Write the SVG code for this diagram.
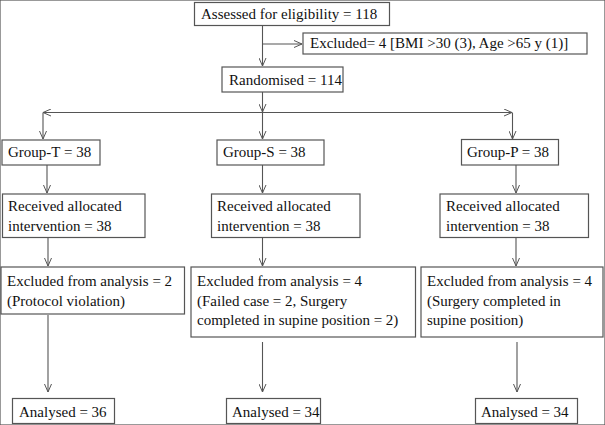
<svg xmlns="http://www.w3.org/2000/svg" width="605" height="425" viewBox="0 0 605 425">
<style>
rect{fill:#fff;stroke:#555;stroke-width:1.2}
text{font-family:'Liberation Serif','Times New Roman','DejaVu Serif',serif;font-size:15px;fill:#111}
.c line{stroke:#555;stroke-width:1.1;fill:none}
</style>
<defs>
<marker id="a" viewBox="0 0 8 8" refX="8" refY="4" markerWidth="8" markerHeight="8" markerUnits="userSpaceOnUse" orient="auto-start-reverse">
<path d="M0,0.5 L8,4 L0,7.5" fill="none" stroke="#555" stroke-width="1"/>
</marker>
</defs>
<rect width="605" height="425" fill="#fff" stroke="none"/>
<g class="c" id="connectors">
<line x1="262.5" y1="26" x2="262.5" y2="66" marker-end="url(#a)"/>
<line x1="262.5" y1="44" x2="302" y2="44" marker-end="url(#a)"/>
<line x1="262.5" y1="92" x2="262.5" y2="112" marker-end="url(#a)"/>
<line x1="43" y1="112.5" x2="512" y2="112.5" marker-start="url(#a)" marker-end="url(#a)"/>
<line x1="43" y1="112.5" x2="43" y2="139" marker-end="url(#a)"/>
<line x1="262.5" y1="112.5" x2="262.5" y2="139" marker-end="url(#a)"/>
<line x1="512.5" y1="112.5" x2="512.5" y2="139" marker-end="url(#a)"/>
<line x1="47" y1="165" x2="47" y2="193" marker-end="url(#a)"/>
<line x1="262.5" y1="165" x2="262.5" y2="193" marker-end="url(#a)"/>
<line x1="516" y1="165" x2="516" y2="193" marker-end="url(#a)"/>
<line x1="48" y1="238" x2="48" y2="266" marker-end="url(#a)"/>
<line x1="262.5" y1="238" x2="262.5" y2="266" marker-end="url(#a)"/>
<line x1="516" y1="238" x2="516" y2="266" marker-end="url(#a)"/>
<line x1="48" y1="315" x2="48" y2="392" marker-end="url(#a)"/>
<line x1="262.5" y1="342" x2="262.5" y2="392" marker-end="url(#a)"/>
<line x1="517" y1="342" x2="517" y2="392" marker-end="url(#a)"/>
</g>
<g font-family="Liberation Serif, serif">
<g id="assessed"><rect x="194.5" y="2.5" width="195" height="23"/><text x="201" y="19">Assessed for eligibility = 118</text></g>
<g id="excluded"><rect x="303" y="33" width="284" height="21"/><text x="310" y="48">Excluded= 4 [BMI &gt;30 (3), Age &gt;65 y (1)]</text></g>
<g id="randomised"><rect x="222" y="67" width="121" height="25"/><text x="229" y="84.5">Randomised = 114</text></g>
<g id="groupT"><rect x="2" y="140" width="98" height="25"/><text x="8" y="157">Group-T = 38</text></g>
<g id="groupS"><rect x="217" y="140" width="107" height="25"/><text x="223" y="157">Group-S = 38</text></g>
<g id="groupP"><rect x="461.5" y="139.5" width="97" height="25.5"/><text x="467" y="157">Group-P = 38</text></g>
<g id="recT"><rect x="2.5" y="194" width="142.5" height="43.5"/><text x="8" y="211">Received allocated</text><text x="8" y="230.5">intervention = 38</text></g>
<g id="recS"><rect x="211.5" y="194" width="148.5" height="43.5"/><text x="217" y="211">Received allocated</text><text x="217" y="230.5">intervention = 38</text></g>
<g id="recP"><rect x="440" y="194" width="148.5" height="43.5"/><text x="446" y="211">Received allocated</text><text x="446" y="230.5">intervention = 38</text></g>
<g id="excT"><rect x="1" y="267" width="183.5" height="47"/><text x="7" y="286">Excluded from analysis = 2</text><text x="7" y="305.5">(Protocol violation)</text></g>
<g id="excS"><rect x="191" y="267" width="224.5" height="70"/><text x="197" y="286">Excluded from analysis = 4</text><text x="197" y="305.5">(Failed case = 2, Surgery</text><text x="197" y="325">completed in supine position = 2)</text></g>
<g id="excP"><rect x="421" y="267" width="182" height="70"/><text x="427" y="286">Excluded from analysis = 4</text><text x="427" y="305.5">(Surgery completed in</text><text x="427" y="325">supine position)</text></g>
<g id="anaT"><rect x="12.5" y="398.5" width="102" height="25"/><text x="19" y="416.5">Analysed = 36</text></g>
<g id="anaS"><rect x="226.5" y="398.5" width="94" height="25"/><text x="232" y="416.5">Analysed = 34</text></g>
<g id="anaP"><rect x="475.5" y="398.5" width="102" height="25"/><text x="481" y="416.5">Analysed = 34</text></g>
</g>
</svg>
